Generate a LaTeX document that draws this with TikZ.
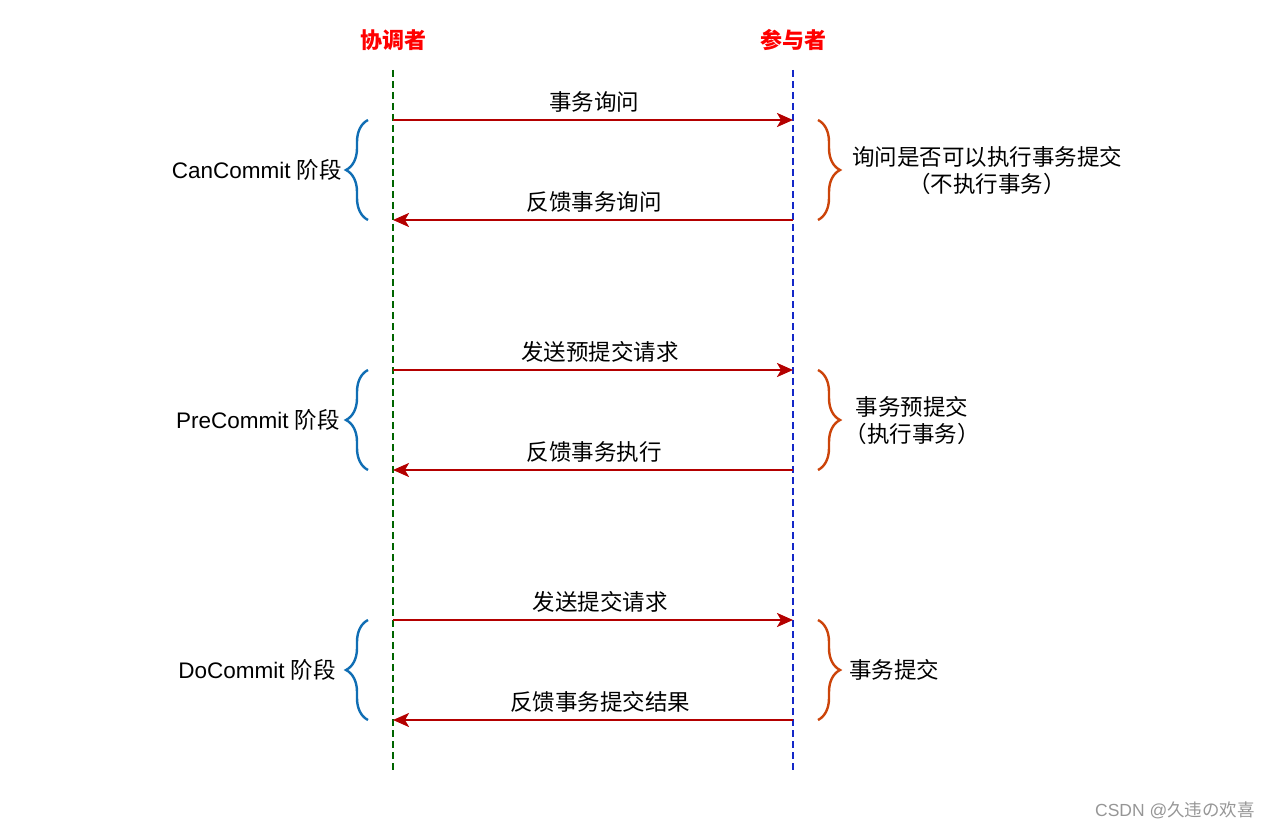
\documentclass[tikz,border=0pt]{standalone}
\usepackage{fontspec}
\setmainfont{Liberation Sans}
\newfontfamily\cjk{Noto Sans CJK SC}
\usetikzlibrary{decorations.pathreplacing,arrows.meta}
\definecolor{lifegreen}{RGB}{0,100,0}
\definecolor{lifeblue}{RGB}{20,40,200}
\definecolor{msgred}{RGB}{180,0,0}
\definecolor{bracel}{RGB}{16,110,180}
\definecolor{bracer}{RGB}{204,68,10}
\definecolor{hdrred}{RGB}{255,0,0}
\definecolor{wm}{RGB}{150,150,150}
\begin{document}
\begin{tikzpicture}[x=1pt,y=-1pt,
  lifeline/.style={line width=2.4pt,dash pattern=on 7pt off 4pt},
  msg/.style={line width=2.4pt,draw=msgred,-{Stealth[length=16pt,width=14pt,inset=4pt]}},
  msglabel/.style={font=\cjk\fontsize{22.5}{28}\selectfont,inner sep=0pt},
  hdr/.style={font=\cjk\bfseries\fontsize{22}{28}\selectfont,text=hdrred,inner sep=0pt},
  phase/.style={font=\fontsize{22.5}{28}\selectfont,inner sep=0pt,anchor=east},
  note/.style={font=\cjk\fontsize{22.5}{27}\selectfont,inner sep=0pt,align=center},
  lbrace/.style={draw=bracel,line width=2.4pt,decorate,decoration={brace,amplitude=22pt}},
  rbrace/.style={draw=bracer,line width=2.4pt,decorate,decoration={brace,amplitude=22pt}}]
\useasboundingbox (0,0) rectangle (1274,829);
% headers
\node[hdr] (coord) at (393,40) {协调者};
\node[hdr] (part) at (793,40) {参与者};
% lifelines
\coordinate (ct) at (393,70); \coordinate (cb) at (393,770);
\coordinate (pt) at (793,70); \coordinate (pb) at (793,770);
\draw[lifeline,draw=lifegreen] (ct) -- (cb);
\draw[lifeline,draw=lifeblue] (pt) -- (pb);
% message points
\foreach \i/\y in {1/120,2/220,3/370,4/470,5/620,6/720}{
  \coordinate (c\i) at (393,\y);
  \coordinate (p\i) at (793,\y);
}
\draw[msg] (c1) -- (p1);
\draw[msg] (p2) -- (c2);
\draw[msg] (c3) -- (p3);
\draw[msg] (p4) -- (c4);
\draw[msg] (c5) -- (p5);
\draw[msg] (p6) -- (c6);
\node[msglabel] (m1) at (594,102) {事务询问};
\node[msglabel] (m2) at (594,202) {反馈事务询问};
\node[msglabel] (m3) at (600,352) {发送预提交请求};
\node[msglabel] (m4) at (594,452) {反馈事务执行};
\node[msglabel] (m5) at (600,602) {发送提交请求};
\node[msglabel] (m6) at (600,702) {反馈事务提交结果};
% left braces
\coordinate (lb1t) at (368,120); \coordinate (lb1b) at (368,220);
\coordinate (lb2t) at (368,370); \coordinate (lb2b) at (368,470);
\coordinate (lb3t) at (368,620); \coordinate (lb3b) at (368,720);
\draw[lbrace] (lb1b) -- (lb1t);
\draw[lbrace] (lb2b) -- (lb2t);
\draw[lbrace] (lb3b) -- (lb3t);
\node[phase] (ph1) at (342,170) {CanCommit {\cjk 阶段}};
\node[phase] (ph2) at (340,420) {PreCommit {\cjk 阶段}};
\node[phase] (ph3) at (336,670) {DoCommit {\cjk 阶段}};
% right braces
\coordinate (rb1t) at (818,120); \coordinate (rb1b) at (818,220);
\coordinate (rb2t) at (818,370); \coordinate (rb2b) at (818,470);
\coordinate (rb3t) at (818,620); \coordinate (rb3b) at (818,720);
\draw[rbrace] (rb1t) -- (rb1b);
\draw[rbrace] (rb2t) -- (rb2b);
\draw[rbrace] (rb3t) -- (rb3b);
\node[note] (n1) at (987,171) {询问是否可以执行事务提交\\（不执行事务）};
\node[note] (n2) at (912,421) {事务预提交\\（执行事务）};
\node[note,anchor=west] (n3) at (849,670) {事务提交};
% watermark
\node[font=\cjk\fontsize{17.5}{20}\selectfont,text=wm,inner sep=0pt] (wmk) at (1175,810) {{\fontspec{Liberation Sans}CSDN @}久违の欢喜};
\end{tikzpicture}
\end{document}
